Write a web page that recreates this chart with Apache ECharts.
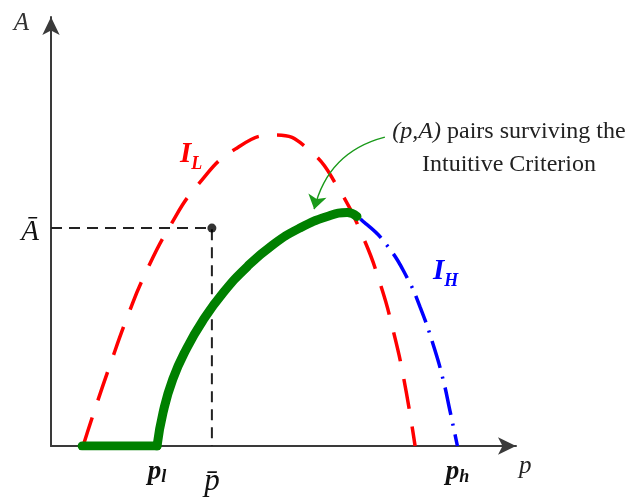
<!DOCTYPE html>
<html><head><meta charset="utf-8">
<script src="https://cdn.jsdelivr.net/npm/echarts@6/dist/echarts.min.js"></script>
<style>html,body{margin:0;padding:0;background:#fff}#c{width:629px;height:497px}</style>
</head><body><div id="c"></div>
<script>
// I_L (low type indifference curve), dashed red
const curveIL = [[0.69,0],[0.90,0.71],[1.27,1.89],[1.66,3.06],[2.02,4.00],[2.56,5.13],[3.16,6.09],[3.96,6.92],[4.82,7.25],[5.55,6.90],[6.19,5.99],[6.71,4.87],[7.08,3.78],[7.35,2.73],[7.59,1.55],[7.83,0]];
// I_H (high type), dash-dot blue
const curveIH = [[2.28,0],[2.41,0.78],[2.62,1.56],[2.92,2.28],[3.27,2.93],[3.70,3.57],[4.22,4.18],[4.77,4.69],[5.35,5.08],[5.94,5.35],[6.37,5.44],[6.75,5.20],[7.23,4.67],[7.66,3.92],[7.94,3.23],[8.22,2.36],[8.43,1.56],[8.58,0.82],[8.74,0]];
// surviving pairs, thick green
const survivingFlat = [[0.67,0],[2.28,0]];
const survivingCurve = [[2.28,0],[2.41,0.78],[2.62,1.56],[2.92,2.28],[3.27,2.93],[3.70,3.57],[4.22,4.18],[4.77,4.69],[5.35,5.08],[5.94,5.35],[6.37,5.44],[6.58,5.35]];
// reference point (p-bar, A-bar)
const pBar = 3.46, aBar = 5.08;
const guide = [[0,aBar],[pBar,aBar],[pBar,0]];
// tick labels
const xTickValues = [2.28, 3.46, 8.74];
const xTickLabels = ['{b|p}{s|l}', '{n|p\u0304}', '{b|p}{s|h}'];
const yTickValues = [aBar];
const yTickLabels = ['{n|\u0100}'];
// annotation arrow (from text to curve)
const annotFrom = [7.18, 7.20], annotTo = [5.66, 5.52];

const serif = 'Liberation Serif';
const chart = echarts.init(document.getElementById('c'));
chart.setOption({
  animation: false,
  backgroundColor: '#fff',
  grid: {left: 51, right: 113, top: 17, bottom: 51},
  xAxis: {
    type: 'value', min: 0, max: 10,
    name: 'p', nameLocation: 'end', nameGap: 3,
    nameTextStyle: {fontFamily: serif, fontStyle: 'italic', fontSize: 25, color: '#222', align: 'left', verticalAlign: 'top', padding: [8,0,0,0]},
    axisLine: {show: true, symbol: ['none','arrow'], symbolSize: [13,18], lineStyle: {color: '#3a3a3a', width: 2}},
    axisTick: {show: false}, splitLine: {show: false},
    axisLabel: {
      customValues: xTickValues, margin: 12,
      formatter: v => xTickLabels[xTickValues.indexOf(v)] || '',
      rich: {
        b: {fontFamily: serif, fontStyle: 'italic', fontWeight: 'bold', fontSize: 27, color: '#111'},
        s: {fontFamily: serif, fontStyle: 'italic', fontWeight: 'bold', fontSize: 18, color: '#111', padding: [10,0,0,0]},
        n: {fontFamily: serif, fontStyle: 'italic', fontSize: 31, color: '#111', padding: [8,0,0,0]}
      }
    }
  },
  yAxis: {
    type: 'value', min: 0, max: 10,
    name: 'A', nameLocation: 'end', nameGap: -6,
    nameTextStyle: {fontFamily: serif, fontStyle: 'italic', fontSize: 25, color: '#333', align: 'right', verticalAlign: 'middle', padding: [0,22,0,0]},
    axisLine: {show: true, symbol: ['none','arrow'], symbolSize: [13,18], lineStyle: {color: '#3a3a3a', width: 2}},
    axisTick: {show: false}, splitLine: {show: false},
    axisLabel: {
      customValues: yTickValues, margin: 12,
      formatter: v => yTickLabels[yTickValues.indexOf(v)] || '',
      rich: {n: {fontFamily: serif, fontStyle: 'italic', fontSize: 29, color: '#111', padding: [8,0,0,0]}}
    }
  },
  series: [
    {type: 'line', data: guide, symbol: 'none', lineStyle: {color: '#222', width: 2, type: [11,7]}, z: 2},
    {type: 'scatter', data: [[pBar, aBar]], symbol: 'circle', symbolSize: 9, itemStyle: {color: '#000'}, z: 3},
    {type: 'line', data: curveIL, smooth: 0.5, symbol: 'none', lineStyle: {color: '#ff0000', width: 3.5, type: [30,18]}, z: 4},
    {type: 'line', data: curveIH, smooth: 0.5, symbol: 'none', lineStyle: {color: '#0000ff', width: 3.5, type: [28,9,2,9]}, z: 4},
    {type: 'line', data: survivingFlat, symbol: 'none', lineStyle: {color: '#008000', width: 9, cap: 'round'}, z: 5},
    {type: 'line', data: survivingCurve, smooth: 0.5, symbol: 'none', lineStyle: {color: '#008000', width: 9, cap: 'round'}, z: 5},
    {type: 'lines', coordinateSystem: 'cartesian2d', silent: true, z: 6,
     symbol: ['none','arrow'], symbolSize: 14,
     lineStyle: {color: '#1a9a1a', width: 1.5, curveness: -0.3, opacity: 1},
     data: [{coords: [annotFrom, annotTo]}]}
  ],
  graphic: [
    {type: 'text', left: 180, top: 140, style: {text: '{m|I}{s|L}', rich: {
      m: {fontFamily: serif, fontStyle: 'italic', fontWeight: 'bold', fontSize: 29, fill: '#ff0000'},
      s: {fontFamily: serif, fontStyle: 'italic', fontWeight: 'bold', fontSize: 18, fill: '#ff0000', padding: [20,0,0,0]}}}},
    {type: 'text', left: 433, top: 257, style: {text: '{m|I}{s|H}', rich: {
      m: {fontFamily: serif, fontStyle: 'italic', fontWeight: 'bold', fontSize: 29, fill: '#0000ff'},
      s: {fontFamily: serif, fontStyle: 'italic', fontWeight: 'bold', fontSize: 18, fill: '#0000ff', padding: [20,0,0,0]}}}},
    {type: 'text', x: 509, y: 115, style: {text: '{i|(p,A)}{r| pairs surviving the}\n{r|Intuitive Criterion}', align: 'center', rich: {
      i: {fontFamily: serif, fontStyle: 'italic', fontSize: 24, fill: '#222', lineHeight: 33},
      r: {fontFamily: serif, fontSize: 24, fill: '#222', lineHeight: 33}}}}
  ]
});
</script></body></html>
